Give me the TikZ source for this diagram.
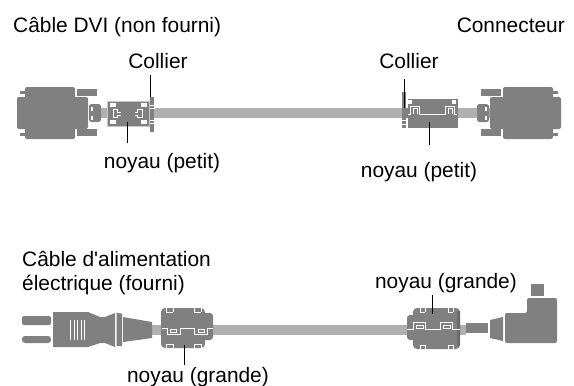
\documentclass[tikz,border=0pt]{standalone}
\usepackage{fontspec}
\newfontfamily\labelfont{Liberation Sans}
\definecolor{dk}{gray}{0.50}
\definecolor{lt}{gray}{0.69}
\definecolor{ed}{gray}{0.78}
\tikzset{
  part/.style={fill=dk,draw=none},
  cablepart/.style={fill=lt,draw=none},
  seam/.style={draw=white,line width=0.8pt,fill=none},
  leader/.style={draw=black,line width=0.8pt},
  lab/.style={font=\labelfont\fontsize{20.9}{24}\selectfont,inner sep=0pt,text=black}
}
\newcommand{\dvishell}{%
  \fill[part,rounded corners=2pt] (25,87) rectangle (75,139);
  \fill[part,rounded corners=2pt] (17,97) rectangle (88,129);
  \fill[part] (20,91) rectangle (26,93.5);
  \fill[part] (20,133) rectangle (26,135.5);
  \fill[part] (77,89) rectangle (97,96);
  \fill[part] (77,129) rectangle (97,136);
  \fill[part,rounded corners=2.5pt] (89,104) rectangle (101,122);
  \fill[white] (91,107) rectangle (93,111);
  \fill[white] (91,116) rectangle (93,120);
}
\begin{document}
\begin{tikzpicture}[x=1pt,y=-1pt]
\useasboundingbox (0,0) rectangle (574,386);
% top cable
\fill[cablepart] (100,108) rectangle (490,118);
\dvishell
\begin{scope}[xshift=578pt,xscale=-1]
\dvishell
\end{scope}
% left small core
\fill[part,draw=ed,line width=0.7pt] (107.5,101.5) rectangle (149.5,126);
\foreach \x/\y in {110/103,110/120,141/103,141/120}
  \fill[white] (\x,\y) rectangle ++(6,3.5);
\draw[seam,line width=0.7pt] (121,112) -- (117,112) -- (117,109.5) -- (113,109.5) -- (113,117.5) -- (117,117.5) -- (117,115) -- (121,115);
\draw[seam,line width=0.7pt] (135,112) -- (137,112) -- (137,109.5) -- (142,109.5) -- (142,117.5) -- (137,117.5) -- (137,115) -- (135,115);
% left collar
\fill[part] (150,97) rectangle (154,132);
\draw[white,line width=0.6pt] (150,105) -- (155,105) (150,108) -- (155,108) (150,120) -- (155,120) (150,123) -- (155,123);
% right small core
\fill[part] (408,99) rectangle (458,128);
\fill[white] (408,100) rectangle (412,104);
\fill[white] (452,100) rectangle (456,104);
\draw[seam,line width=0.7pt] (408,114) -- (410,114) -- (410,106) -- (419,106) -- (419,114) -- (445,114) -- (445,106) -- (454,106) -- (454,114) -- (457,114);
\draw[seam,line width=0.7pt] (413,114) -- (413,108.5) -- (417,108.5) -- (417,114);
\draw[seam,line width=0.7pt] (448,114) -- (448,108.5) -- (452,108.5) -- (452,114);
% right collar
\fill[part] (402,92) rectangle (406,128);
\fill[part] (402,108) rectangle (408,118);
\draw[white,line width=0.6pt] (402,120) -- (406,120) (402,124) -- (406,124);
% bottom cable
\fill[cablepart] (152,325) rectangle (466,335);
% plug
\fill[part,rounded corners=2pt] (22,316) rectangle (51,325);
\fill[part,rounded corners=3pt] (22,336) rectangle (51,343);
\fill[part] (53,312) -- (88,312) -- (100,317) -- (105,317) -- (115,313) -- (115,347) -- (105,343) -- (100,343) -- (88,347) -- (53,347) -- cycle;
\fill[part] (116.5,313) -- (122,313.5) -- (122,346) -- (116.5,346) -- cycle;
\fill[part] (123,317) -- (152,322) -- (152,338) -- (123,342) -- cycle;
\foreach \x in {70.5,74,77.5,81,84.5}
  \draw[white,line width=0.6pt] (\x,320) -- (\x,340);
% left big core
\fill[part,rounded corners=4pt] (161,308) rectangle (205,348);
\fill[part,rounded corners=3pt] (161,313) rectangle (213,340);
\draw[seam] (162,328) -- (167,328) -- (167,334) -- (180,334) -- (180,328) -- (194,328) -- (194,334) -- (207,334) -- (207,328) -- (213,328);
\draw[seam,line width=0.7pt] (170,329.5) rectangle (176,332.5) (198,329.5) rectangle (204,332.5);
\foreach \x in {166,173,194,201}{
  \draw[white,line width=0.6pt] (\x,308) -- (\x,312);
  \draw[white,line width=0.6pt] (\x,344) -- (\x,348);
}
\draw[white,line width=0.6pt] (166,312) -- (173,312) (194,312) -- (201,312) (166,344) -- (173,344) (194,344) -- (201,344);
% right big core
\fill[part,rounded corners=4pt] (413,308) rectangle (460,349);
\fill[part,rounded corners=3pt] (407,315) rectangle (460,340);
\fill[dk!85!black] (457,311) rectangle (460,346);
\draw[seam] (407,329) -- (413,329) -- (413,322) -- (425,322) -- (425,329) -- (440,329) -- (440,322) -- (452,322) -- (452,329) -- (460,329);
\draw[seam,line width=0.7pt] (416,325) rectangle (423,328) (443,325) rectangle (450,328);
\foreach \x in {420,425,448,453}{
  \draw[white,line width=0.6pt] (\x,308) -- (\x,312);
  \draw[white,line width=0.6pt] (\x,345) -- (\x,349);
}
\draw[white,line width=0.6pt] (420,312) -- (425,312) (448,312) -- (453,312) (420,345) -- (425,345) (448,345) -- (453,345);
% right elbow plug
\fill[part] (466,323) -- (488,323) -- (488,333) -- (466,333) -- cycle;
\fill[part] (490,320) -- (503,317) -- (503,341) -- (490,338) -- cycle;
\fill[part,rounded corners=2pt] (505,313) -- (527,313) -- (527,298) -- (557,298) -- (557,343) -- (505,343) -- cycle;
\fill[part] (530.5,283.5) rectangle (543.5,296);
% labels
\node[lab,anchor=base west] (tdvi) at (13,32) {Câble DVI (non fourni)};
\node[lab,anchor=base east] (tconn) at (565,32) {Connecteur};
\node[lab,anchor=base] (tcolA) at (158,68) {Collier};
\node[lab,anchor=base] (tcolB) at (409,68) {Collier};
\node[lab,anchor=base] (tnpA) at (162,168) {noyau (petit)};
\node[lab,anchor=base] (tnpB) at (419,177) {noyau (petit)};
\node[lab,anchor=base west] (talA) at (22,266) {Câble d'alimentation};
\node[lab,anchor=base west] (talB) at (22,290) {électrique (fourni)};
\node[lab,anchor=base] (tngB) at (446,288) {noyau (grande)};
\node[lab,anchor=base] (tngA) at (198,382) {noyau (grande)};
% leaders
\coordinate (cA) at (150,97);
\coordinate (cB) at (404,108);
\coordinate (nA) at (127,122);
\coordinate (nB) at (429,122);
\coordinate (gA) at (184,345);
\coordinate (gB) at (432,314);
\draw[leader] (150,75) -- (cA);
\draw[leader] (404,79) -- (cB);
\draw[leader] (nA) -- (127,143);
\draw[leader] (nB) -- (429,145);
\draw[leader] (gA) -- (184,365);
\draw[leader] (432,295) -- (gB);
\end{tikzpicture}
\end{document}
